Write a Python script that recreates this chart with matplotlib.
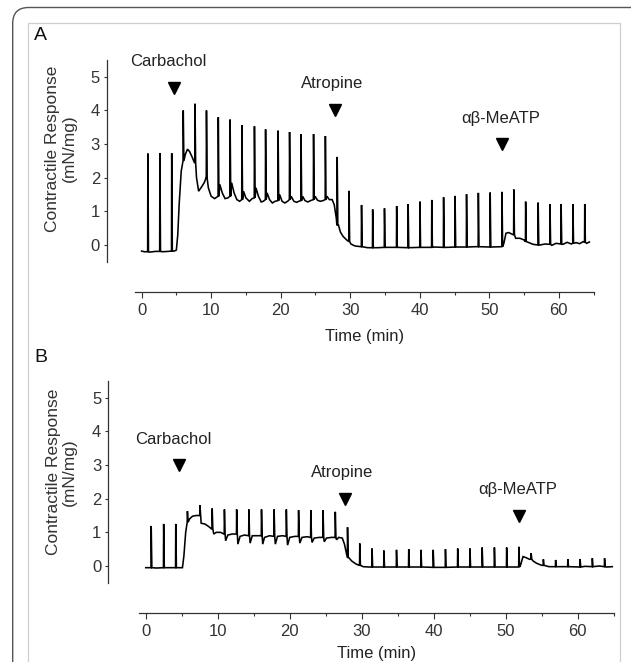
import numpy as np
import matplotlib
matplotlib.use("Agg")
import matplotlib.pyplot as plt
from matplotlib.patches import FancyBboxPatch, Rectangle

plt.rcParams['font.family'] = ['Liberation Sans', 'DejaVu Sans']

# ---- panel A data (time in min, response in mN/mg) ----
a_base_t = [0.0, 0.4, 1.2, 2.0, 3.0, 3.8, 4.7, 5.0, 5.2, 5.4, 5.7, 5.95, 6.3, 6.6, 6.9, 7.3, 7.6,
            7.9, 8.2, 8.6, 9.0, 9.28, 9.6, 10.0, 10.5, 10.98, 11.25, 11.6, 12.0, 12.4, 12.68,
            12.95, 13.3, 13.7, 14.1, 14.38, 14.65, 15.0, 15.5, 15.9, 16.18, 16.45, 16.8, 17.2,
            17.5, 17.78, 18.05, 18.4, 18.8, 19.2, 19.58, 19.85, 20.2, 20.6, 21.0, 21.23, 21.5,
            21.9, 22.3, 22.6, 22.88, 23.15, 23.5, 23.9, 24.3, 24.68, 24.95, 25.3, 25.7, 26.1,
            26.38, 26.65, 27.0, 27.4, 27.7, 28.0, 28.08, 28.3, 28.6, 29.0, 29.5, 29.78, 30.1,
            30.7, 31.58, 32.5, 34.0, 36.0, 38.0, 40.0, 42.0, 44.0, 46.0, 48.0, 50.0, 51.8,
            52.1, 52.4, 52.8, 53.3, 53.48, 53.8, 54.4, 55.0, 55.6, 56.3, 57.3, 58.0, 59.0,
            59.6, 60.6, 61.2, 61.8, 62.5, 63.0, 63.5, 64.0, 64.4]
a_base_y = [-0.18, -0.2, -0.21, -0.19, -0.2, -0.19, -0.18, -0.15, 0.3, 1.2, 2.2, 2.5, 2.7, 2.85,
            2.78, 2.6, 2.45, 2.0, 1.6, 1.72, 1.85, 2.0, 1.7, 1.45, 1.38, 1.45, 1.8, 1.55, 1.38,
            1.4, 1.45, 1.85, 1.55, 1.35, 1.3, 1.35, 1.6, 1.4, 1.3, 1.38, 1.4, 1.7, 1.45, 1.28,
            1.3, 1.35, 1.55, 1.35, 1.25, 1.3, 1.32, 1.5, 1.3, 1.25, 1.3, 1.35, 1.45, 1.3, 1.27,
            1.3, 1.32, 1.45, 1.32, 1.28, 1.32, 1.35, 1.45, 1.33, 1.3, 1.32, 1.35, 1.45, 1.35,
            1.35, 1.2, 0.8, 0.6, 0.6, 0.38, 0.25, 0.15, 0.1, 0.03, -0.03, -0.05, -0.08, -0.08,
            -0.07, -0.08, -0.07, -0.06, -0.07, -0.06, -0.05, -0.06, -0.05, 0.05, 0.35, 0.37,
            0.32, 0.3, 0.2, 0.2, 0.15, 0.08, 0.02, 0.0, 0.03, -0.01, 0.05, 0.02, 0.08, 0.03,
            0.07, 0.04, 0.1, 0.05, 0.09, 0.05]
a_spike_t = [0.87, 2.6, 4.3, 5.96, 7.65, 9.3, 11.0, 12.7, 14.4, 16.2, 17.8, 19.6, 21.25, 22.9,
             24.7, 26.4, 28.1, 29.8, 31.6, 33.2, 34.9, 36.65, 38.3, 40.0, 41.7, 43.4, 45.05,
             46.7, 48.4, 50.1, 51.8, 53.5, 55.2, 57.0, 58.7, 60.3, 62.0, 63.7]
a_spike_base = [-0.2, -0.19, -0.18, 2.5, 2.45, 2.0, 1.45, 1.45, 1.35, 1.4, 1.35, 1.32, 1.35,
                1.32, 1.35, 1.35, 0.6, 0.1, -0.05, -0.08, -0.07, -0.07, -0.08, -0.07, -0.07,
                -0.07, -0.06, -0.06, -0.05, -0.06, -0.05, 0.3, 0.1, 0.0, 0.02, 0.03, 0.05, 0.08]
a_spike_peak = [2.72, 2.73, 2.73, 4.0, 4.2, 4.0, 3.8, 3.73, 3.56, 3.53, 3.44, 3.4, 3.36, 3.3,
                3.3, 3.24, 2.62, 1.61, 1.19, 1.06, 1.09, 1.16, 1.22, 1.29, 1.34, 1.42, 1.46,
                1.51, 1.55, 1.56, 1.58, 1.65, 1.29, 1.26, 1.22, 1.22, 1.22, 1.22]

# ---- panel B data ----
b_base_t = [0.0, 1.5, 3.0, 5.1, 5.3, 5.55, 5.75, 6.1, 6.5, 7.0, 7.45, 7.7, 8.2, 8.7, 9.15,
            9.45, 9.8, 10.4, 10.85, 11.1, 11.4, 12.0, 12.55, 12.8, 13.1, 13.7, 14.25, 14.5,
            14.8, 15.5, 16.0, 16.25, 16.5, 17.2, 17.75, 18.0, 18.3, 19.0, 19.45, 19.7, 20.0,
            20.7, 21.15, 21.4, 21.7, 22.4, 22.85, 23.1, 23.4, 24.1, 24.55, 24.8, 25.1, 25.8,
            26.25, 26.5, 26.8, 27.3, 27.6, 27.9, 28.2, 28.6, 29.2, 29.65, 30.2, 31.0, 33.0,
            40.0, 45.0, 51.8, 52.1, 52.4, 52.8, 53.3, 53.8, 54.3, 55.0, 56.0, 58.0, 60.0,
            61.0, 62.0, 63.0, 64.0, 64.8]
b_base_y = [-0.05, -0.06, -0.05, -0.05, 0.3, 1.0, 1.3, 1.4, 1.48, 1.5, 1.5, 1.27, 1.25, 1.18,
            1.1, 0.95, 1.0, 1.0, 0.95, 0.75, 0.92, 0.95, 0.95, 0.65, 0.88, 0.92, 0.9, 0.68, 0.9,
            0.9, 0.9, 0.65, 0.85, 0.9, 0.88, 0.65, 0.88, 0.9, 0.88, 0.62, 0.85, 0.88, 0.88,
            0.68, 0.85, 0.87, 0.85, 0.7, 0.83, 0.85, 0.85, 0.72, 0.83, 0.85, 0.85, 0.78, 0.85,
            0.83, 0.65, 0.35, 0.25, 0.15, 0.06, 0.02, -0.02, -0.03, -0.03, -0.04, -0.03, -0.03,
            0.05, 0.28, 0.25, 0.2, 0.15, 0.08, 0.02, -0.02, -0.02, -0.03, -0.01, -0.02, 0.0,
            -0.03, -0.02]
b_spike_t = [0.73, 2.46, 4.14, 5.76, 7.5, 9.2, 10.9, 12.6, 14.3, 16.05, 17.8, 19.5, 21.2, 22.9,
             24.6, 26.3, 28.0, 29.7, 31.4, 33.05, 34.8, 36.5, 38.2, 39.9, 41.6, 43.3, 45.0,
             46.7, 48.4, 50.1, 51.8, 53.5, 55.2, 56.9, 58.6, 60.3, 62.0, 63.7]
b_spike_base = [-0.05, -0.05, -0.05, 1.3, 1.5, 1.1, 0.95, 0.95, 0.9, 0.9, 0.88, 0.88, 0.88,
                0.85, 0.85, 0.85, 0.25, 0.02, -0.03, -0.03, -0.03, -0.03, -0.03, -0.04, -0.04,
                -0.03, -0.03, -0.03, -0.03, -0.03, -0.03, 0.2, 0.02, -0.02, -0.02, -0.03,
                -0.02, -0.02]
b_spike_peak = [1.19, 1.25, 1.25, 1.63, 1.81, 1.71, 1.68, 1.68, 1.68, 1.68, 1.68, 1.68, 1.66,
                1.66, 1.66, 1.61, 1.15, 0.67, 0.52, 0.46, 0.48, 0.5, 0.48, 0.48, 0.5, 0.52,
                0.52, 0.55, 0.55, 0.55, 0.57, 0.38, 0.2, 0.18, 0.2, 0.2, 0.23, 0.23]

drug_names = ["Carbachol", "Atropine", "\u03b1\u03b2-MeATP"]
a_label_xy = [(3.9, 5.47), (27.4, 4.8), (51.7, 3.76)]
a_arrow_xy = [(4.64, 4.67), (27.86, 4.01), (51.9, 2.99)]
b_label_xy = [(3.8, 3.76), (27.3, 2.77), (51.6, 2.28)]
b_arrow_xy = [(4.63, 3.0), (27.7, 1.98), (51.9, 1.49)]


def build_trace(bt, by, st, sb, sp):
    # merge baseline with spikes (fast rise, fast fall)
    pts = [(t, y) for t, y in zip(bt, by)
           if not any(s <= t <= s + 0.18 for s in st)]
    for t, b, p in zip(st, sb, sp):
        pts += [(t, b), (t + 0.03, p), (t + 0.12, b)]
    pts.sort(key=lambda q: q[0])
    return np.array([q[0] for q in pts]), np.array([q[1] for q in pts])


fig = plt.figure(figsize=(6.31, 6.62), dpi=100)

# background frame
bg = fig.add_axes([0, 0, 1, 1], zorder=-5)
bg.set_xlim(0, 631)
bg.set_ylim(662, 0)
bg.axis("off")
bg.add_patch(FancyBboxPatch((12.7, 7.5), 660, 700, boxstyle="round,pad=0,rounding_size=16",
                            fill=False, ec="#555555", lw=1.0))
bg.add_patch(Rectangle((28, 23), 592, 700, fill=False, ec="#cfcfcf", lw=0.9))
bg.text(40, 35, "A", fontsize=14, ha="center", va="center", color="#111111")
bg.text(41, 357, "B", fontsize=14, ha="center", va="center", color="#111111")

panels = [
    ([0.2136, 0.6045, 0.7271, 0.3048], (-0.98, 65.0), 20, 22, 7.5,
     (a_base_t, a_base_y, a_spike_t, a_spike_base, a_spike_peak), a_label_xy, a_arrow_xy,
     (-0.16, 0.561)),
    ([0.2200, 0.1196, 0.7526, 0.3050], (-0.96, 65.0), 22, 22, 5.0,
     (b_base_t, b_base_y, b_spike_t, b_spike_base, b_spike_peak), b_label_xy, b_arrow_xy,
     (-0.163, 0.55)),
]

for rect, xl, lout, bout, lpad, data, lab_xy, arr_xy, ylab_xy in panels:
    ax = fig.add_axes(rect)
    t, y = build_trace(*data)
    ax.plot(t, y, color="black", lw=1.15, solid_joinstyle="miter")
    ax.set_xlim(*xl)
    ax.set_ylim(-0.5, 5.5)
    for sp in ["top", "right"]:
        ax.spines[sp].set_visible(False)
    ax.spines["left"].set_position(("outward", lout))
    ax.spines["bottom"].set_position(("outward", bout))
    for sp in ["left", "bottom"]:
        ax.spines[sp].set_linewidth(0.9)
        ax.spines[sp].set_color("#333333")
    ax.set_yticks([0, 1, 2, 3, 4, 5])
    ax.set_xticks([0, 10, 20, 30, 40, 50, 60])
    ax.set_xticks([5, 15, 25, 35, 45, 55, 65], minor=True)
    ax.tick_params(axis="y", direction="out", length=2.5, width=0.8, pad=2.5,
                   labelsize=12, colors="#333333")
    ax.tick_params(axis="x", which="major", direction="out", length=4, width=0.8, pad=4,
                   labelsize=12, colors="#333333")
    ax.tick_params(axis="x", which="minor", direction="out", length=2.5, width=0.8,
                   colors="#333333")
    ax.set_xlabel("Time (min)", fontsize=12, labelpad=lpad, color="#222222")
    ax.text(ylab_xy[0], ylab_xy[1], "Contractile Response\n(mN/mg)", transform=ax.transAxes,
            rotation=90, ha="center", va="center", fontsize=12.5, color="#333333",
            multialignment="center", linespacing=1.15)
    for name, (lx, ly), (mx, my) in zip(drug_names, lab_xy, arr_xy):
        ax.text(lx, ly, name, ha="center", va="center", fontsize=12, color="#222222",
                clip_on=False)
        ax.plot([mx], [my], marker="v", ms=9, color="black", clip_on=False)

fig.savefig("out.png", dpi=100)
